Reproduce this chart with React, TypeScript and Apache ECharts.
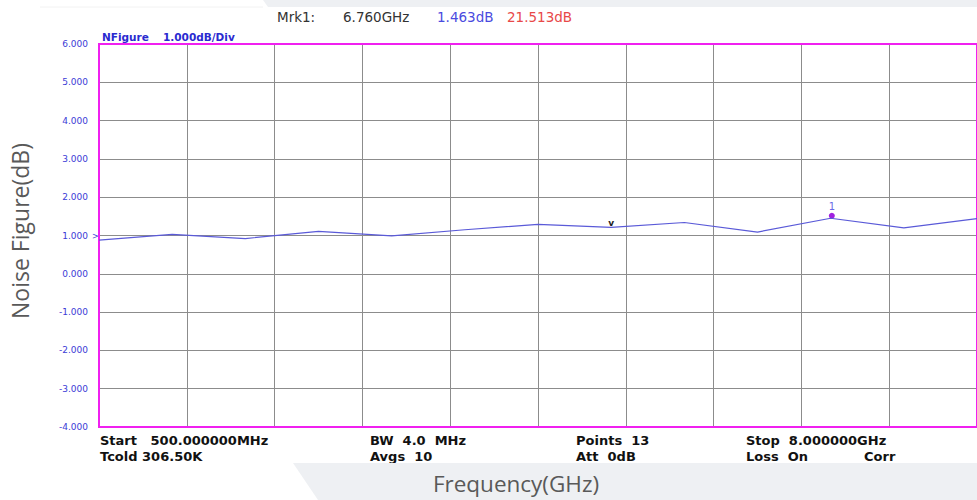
import React, { useEffect, useRef } from "react";
import * as echarts from "echarts";

// Sweep points (GHz) and measured noise figure (dB)
const freqGHz = [0.5, 1.125, 1.75, 2.375, 3.0, 3.625, 4.25, 4.875, 5.5, 6.125, 6.75, 7.375, 8.0];
const noiseFigure = [0.88, 1.03, 0.92, 1.11, 0.99, 1.15, 1.29, 1.21, 1.34, 1.09, 1.45, 1.2, 1.44];

// Marker 1 readout
const marker1 = { freq: 6.76, nf: 1.463, gain: 21.513 };
// Reference tick ("v") on the trace
const refTick = { freq: 4.875, nf: 1.21 };

// Instrument status lines under the graticule
const statusLeft = ["Start   500.000000MHz", "Tcold 306.50K"];
const statusMid = ["BW  4.0  MHz", "Avgs  10"];
const statusPts = ["Points  13", "Att  0dB"];
const statusRight = ["Stop  8.000000GHz", "Loss  On"];

const GRID = { left: 99, top: 44, width: 878, height: 383 };
const statusFont = "bold 13px 'DejaVu Sans'";
const headerFont = "13.5px 'DejaVu Sans'";

export default function App() {
  const ref = useRef<HTMLDivElement>(null);

  useEffect(() => {
    if (!ref.current) return;
    const chart = echarts.init(ref.current, undefined, { renderer: "svg" });

    const statusText = (x: number, lines: string[]) =>
      lines.map((t, i) => ({
        type: "text",
        left: x,
        top: 434 + i * 16,
        style: { text: t, font: statusFont, fill: "#111" },
        z: 10,
      }));

    chart.setOption({
      animation: false,
      backgroundColor: "#ffffff",
      grid: {
        ...GRID,
        show: true,
        borderColor: "#f020f0",
        borderWidth: 2,
        backgroundColor: "transparent",
        z: 3,
      },
      xAxis: [
        {
          type: "value",
          min: 0.5,
          max: 8,
          axisLine: { show: false },
          axisTick: { show: false },
          axisLabel: { show: false },
          splitLine: { show: false },
        },
        {
          // graticule divisions
          type: "value",
          min: 0,
          max: 10,
          interval: 1,
          position: "bottom",
          axisLine: { show: false },
          axisTick: { show: false },
          axisLabel: { show: false },
          splitLine: { show: true, lineStyle: { color: "#8c8c8c", width: 1 } },
        },
      ],
      yAxis: {
        type: "value",
        min: -4,
        max: 6,
        interval: 1,
        axisLine: { show: false },
        axisTick: { show: false },
        axisLabel: {
          formatter: (v: number) => v.toFixed(3),
          color: "#3b3bd6",
          fontFamily: "DejaVu Sans",
          fontSize: 9,
          margin: 11,
        },
        splitLine: { show: true, lineStyle: { color: "#8c8c8c", width: 1 } },
      },
      series: [
        {
          type: "line",
          xAxisIndex: 0,
          data: freqGHz.map((f, i) => [f, noiseFigure[i]]),
          symbol: "none",
          lineStyle: { color: "#5a5ad8", width: 1.2 },
          z: 5,
          markPoint: {
            data: [
              {
                coord: [marker1.freq, marker1.nf],
                symbol: "circle",
                symbolSize: 6,
                symbolOffset: [0, -2],
                itemStyle: { color: "#a020e0" },
                label: {
                  show: true,
                  formatter: "1",
                  position: "top",
                  distance: 1,
                  color: "#6a6ae6",
                  fontFamily: "DejaVu Sans",
                  fontSize: 10,
                },
              },
              {
                coord: [refTick.freq, refTick.nf],
                symbol: "circle",
                symbolSize: 1,
                itemStyle: { color: "rgba(0,0,0,0)" },
                label: {
                  show: true,
                  formatter: "v",
                  position: "inside",
                  offset: [0, -4],
                  color: "#222",
                  fontFamily: "DejaVu Sans",
                  fontWeight: "bold",
                  fontSize: 9,
                },
              },
            ],
          },
        },
      ],
      graphic: [
        // light slanted band along the top edge
        {
          type: "polygon",
          shape: { points: [[263, 0], [977, 0], [977, 7], [268, 7]] },
          style: { fill: "#eef0f3" },
          z: -10,
        },
        {
          type: "line",
          shape: { x1: 40, y1: 7, x2: 263, y2: 7 },
          style: { stroke: "#f2f2f2", lineWidth: 1 },
          z: -10,
        },
        // marker readout
        { type: "text", left: 277, top: 10, style: { text: "Mrk1:", font: headerFont, fill: "#333" } },
        {
          type: "text",
          left: 343,
          top: 10,
          style: { text: marker1.freq.toFixed(3) + "GHz", font: headerFont, fill: "#333" },
        },
        {
          type: "text",
          left: 437,
          top: 10,
          style: { text: marker1.nf.toFixed(3) + "dB", font: headerFont, fill: "#4a4ae0" },
        },
        {
          type: "text",
          left: 507,
          top: 10,
          style: { text: marker1.gain.toFixed(3) + "dB", font: headerFont, fill: "#e84848" },
        },
        // trace scale
        {
          type: "text",
          left: 102,
          top: 31,
          style: { text: "NFigure", font: "bold 10.5px 'DejaVu Sans'", fill: "#2a2ad0" },
        },
        {
          type: "text",
          left: 163,
          top: 31,
          style: { text: "1.000dB/Div", font: "bold 10.5px 'DejaVu Sans'", fill: "#2a2ad0" },
        },
        // reference level pointer
        { type: "text", left: 92, top: 232, style: { text: ">", font: "8px 'DejaVu Sans'", fill: "#3b3bd6" } },
        ...statusText(100, statusLeft),
        ...statusText(370, statusMid),
        ...statusText(576, statusPts),
        ...statusText(746, statusRight),
        {
          type: "text",
          left: 864,
          top: 450,
          style: { text: "Corr", font: statusFont, fill: "#111" },
          z: 10,
        },
        // lower edge: white strip, then the slanted grey band over it
        {
          type: "rect",
          shape: { x: 0, y: 463, width: 977, height: 37 },
          style: { fill: "#ffffff" },
          z: 20,
        },
        {
          type: "polygon",
          shape: { points: [[293, 463], [977, 463], [977, 500], [318, 500]] },
          style: { fill: "#eef0f3" },
          z: 21,
        },
        // axis titles
        {
          type: "text",
          x: 516,
          y: 483,
          style: {
            text: "Frequency(GHz)",
            font: "22.5px 'Open Sans'",
            fill: "#595959",
            align: "center",
            verticalAlign: "middle",
          },
          z: 22,
        },
        {
          type: "text",
          x: 20,
          y: 231,
          rotation: Math.PI / 2,
          style: {
            text: "Noise Figure(dB)",
            font: "23px 'Open Sans'",
            fill: "#595959",
            align: "center",
            verticalAlign: "middle",
          },
          z: 22,
        },
      ],
    });

    return () => chart.dispose();
  }, []);

  return (
    <div
      ref={ref}
      style={{ position: "fixed", left: 0, top: 0, width: 977, height: 500 }}
    />
  );
}
